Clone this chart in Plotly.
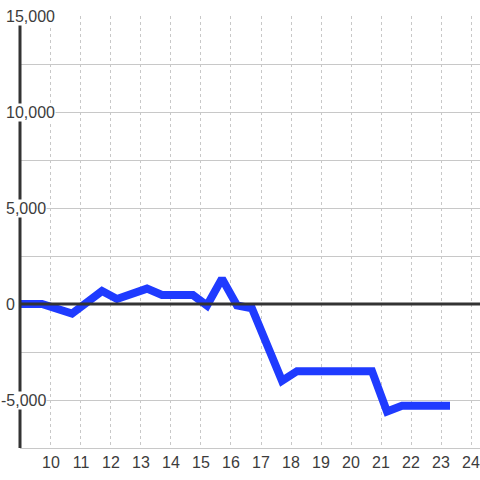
import plotly.graph_objects as go

# data
hours = [9.0, 9.7, 10.7, 11.7, 12.2, 13.2, 13.7, 14.73, 15.2, 15.7, 16.2, 16.7, 17.7, 18.2, 20.7, 21.2, 21.7, 23.3]
values = [0, 0, -500, 680, 260, 800, 470, 470, -80, 1320, -80, -230, -4000, -3500, -3500, -5600, -5300, -5300]
x_ticks = list(range(10, 25))
y_tick_vals = [15000, 10000, 5000, 0, -5000]
y_tick_text = ["15,000", "10,000", "5,000", "0", "-5,000"]

W, H = 480, 480
ML, MR, MT, MB = 20, 0, 16, 32
PW = W - ML - MR
BG = "#ffffff"
TEXT = "#3c3c3c"
FONT = "Liberation Sans"
FS = 16

fig = go.Figure()
fig.add_trace(go.Scatter(x=hours, y=values, mode="lines",
                         line=dict(color="#1f3bff", width=8),
                         hoverinfo="skip", showlegend=False))

# zero line
fig.add_shape(type="line", xref="paper", yref="y", x0=0, x1=1, y0=0, y1=0,
              line=dict(color="#333333", width=3), layer="above")
# y axis line
fig.add_shape(type="line", xref="paper", yref="y", x0=0, x1=0, y0=-7500, y1=14580,
              line=dict(color="#333333", width=3), layer="above")

# y tick labels as annotations with background
for v, t in zip(y_tick_vals, y_tick_text):
    left_px = 5 - (5 if t.startswith("-") else 0)
    fig.add_annotation(x=(left_px - ML) / PW, xref="paper", y=v, yref="y",
                       text=t, showarrow=False, xanchor="left", yanchor="middle",
                       bgcolor=BG, borderpad=0,
                       font=dict(family=FONT, size=FS, color=TEXT))

fig.update_layout(
    width=W, height=H,
    margin=dict(l=ML, r=MR, t=MT, b=MB, autoexpand=False),
    paper_bgcolor=BG, plot_bgcolor=BG,
    xaxis=dict(range=[8.967, 24.3], tickvals=x_ticks, ticktext=[str(v) for v in x_ticks],
               showgrid=True, gridcolor="#c8c8c8", gridwidth=1, griddash="dot",
               zeroline=False, showline=True, linecolor="#c8c8c8", linewidth=1,
               ticks="", automargin=False, tickfont=dict(family=FONT, size=FS, color=TEXT)),
    yaxis=dict(range=[-7500, 15000], dtick=2500, tick0=0, showticklabels=False,
               showgrid=True, gridcolor="#c8c8c8", gridwidth=1, zeroline=False,
               showline=False, ticks="", automargin=False),
)

fig.write_html("out.html", config={"displayModeBar": False},
               post_script="document.body.style.margin='0';document.body.style.overflow='hidden';")
